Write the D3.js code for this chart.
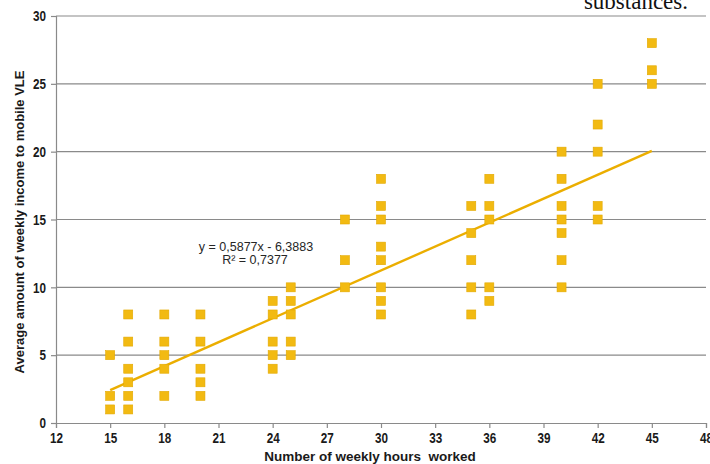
<!DOCTYPE html>
<html>
<head>
<meta charset="utf-8">
<script src="https://cdn.jsdelivr.net/npm/d3@7"></script>
<style>
  html, body { margin: 0; padding: 0; background: #ffffff; }
  svg { display: block; }
</style>
</head>
<body>
<svg id="chart" width="710" height="464"></svg>
<script>
// Weekly hours worked vs. average weekly income spent on mobile VLE
const hours = [
  15, 15, 15,
  16, 16, 16, 16, 16, 16,
  18, 18, 18, 18, 18,
  20, 20, 20, 20, 20,
  24, 24, 24, 24, 24,
  25, 25, 25, 25, 25,
  28, 28, 28,
  30, 30, 30, 30, 30, 30, 30, 30,
  35, 35, 35, 35, 35,
  36, 36, 36, 36, 36,
  40, 40, 40, 40, 40, 40, 40,
  42, 42, 42, 42, 42,
  45, 45, 45
];
const income = [
  5, 2, 1,
  8, 6, 4, 3, 2, 1,
  8, 6, 5, 4, 2,
  8, 6, 4, 3, 2,
  9, 8, 6, 5, 4,
  10, 9, 8, 6, 5,
  15, 12, 10,
  18, 16, 15, 13, 12, 10, 9, 8,
  16, 14, 12, 10, 8,
  18, 16, 15, 10, 9,
  20, 18, 16, 15, 14, 12, 10,
  25, 22, 20, 16, 15,
  28, 26, 25
];
const xTicks = [12, 15, 18, 21, 24, 27, 30, 33, 36, 39, 42, 45, 48];
const yTicks = [0, 5, 10, 15, 20, 25, 30];
const trendSlope = 0.5877;
const trendIntercept = -6.3883;
const trendLabel = ["y = 0,5877x - 6,3883", "R\u00b2 = 0,7377"];

const svg = d3.select("#chart");
const margin = { left: 56, right: 4, top: 16, bottom: 41 };
const W = 710, H = 464;

const x = d3.scaleLinear().domain([12, 48]).range([margin.left, W - margin.right]);
const y = d3.scaleLinear().domain([0, 30]).range([H - margin.bottom, margin.top]);

const sansFont = "'Liberation Sans', Arial, sans-serif";
const gridColor = "#8a8a8a";
const narrow = 0.78; // horizontal squeeze for the condensed tick numerals

// horizontal gridlines
svg.append("g")
  .selectAll("line")
  .data(yTicks.filter(d => d > 0))
  .join("line")
  .attr("x1", x(12)).attr("x2", x(48))
  .attr("y1", d => y(d)).attr("y2", d => y(d))
  .attr("stroke", gridColor)
  .attr("stroke-width", 1.2);

// y axis
const yAxis = svg.append("g")
  .attr("transform", `translate(${x(12)},0)`)
  .call(d3.axisLeft(y).tickValues(yTicks).tickSize(5).tickPadding(5));
// x axis
const xAxis = svg.append("g")
  .attr("transform", `translate(0,${y(0)})`)
  .call(d3.axisBottom(x).tickValues(xTicks).tickSize(5).tickPadding(4));

[yAxis, xAxis].forEach(g => {
  g.select(".domain").attr("stroke", gridColor).attr("stroke-width", 1.2);
  g.selectAll(".tick line").attr("stroke", gridColor).attr("stroke-width", 1.2);
  g.selectAll(".tick text")
    .attr("fill", "#1a1a1a")
    .attr("transform", `scale(${narrow},1)`)
    .style("font-family", sansFont)
    .style("font-size", "15px")
    .style("font-weight", "bold");
});
yAxis.selectAll(".tick text").attr("x", -10 / narrow);

// trendline over the observed range
const xr = d3.extent(hours);
svg.append("line")
  .attr("x1", x(xr[0])).attr("y1", y(trendSlope * xr[0] + trendIntercept))
  .attr("x2", x(xr[1])).attr("y2", y(trendSlope * xr[1] + trendIntercept))
  .attr("stroke", "#EBAE00")
  .attr("stroke-width", 2.4);

// data markers
const s = 9;
svg.append("g")
  .selectAll("rect")
  .data(hours.map((h, i) => [h, income[i]]))
  .join("rect")
  .attr("x", d => x(d[0]) - s / 2)
  .attr("y", d => y(d[1]) - s / 2)
  .attr("width", s).attr("height", s)
  .attr("fill", "#F2BA12")
  .attr("stroke", "#E3A900")
  .attr("stroke-width", 0.6);

// regression label
svg.append("text")
  .attr("x", 253).attr("y", 251)
  .attr("text-anchor", "middle")
  .style("font-family", sansFont)
  .style("font-size", "12.5px")
  .attr("fill", "#262626")
  .selectAll("tspan")
  .data(trendLabel)
  .join("tspan")
  .attr("x", (d, i) => i === 0 ? 256 : 255)
  .attr("dy", (d, i) => i === 0 ? 0 : 13)
  .text(d => d);

// axis titles
svg.append("text")
  .attr("x", 370).attr("y", 461)
  .attr("text-anchor", "middle")
  .style("font-family", sansFont)
  .style("font-size", "13.5px")
  .style("font-weight", "bold")
  .style("white-space", "pre")
  .attr("fill", "#1a1a1a")
  .text("Number of weekly hours  worked");

svg.append("text")
  .attr("transform", "translate(24,222) rotate(-90)")
  .attr("text-anchor", "middle")
  .style("font-family", sansFont)
  .style("font-size", "13px")
  .style("font-weight", "bold")
  .attr("fill", "#1a1a1a")
  .text("Average amount of weekly income to mobile VLE");

// running text above the figure
svg.append("text")
  .attr("x", 688).attr("y", 9)
  .attr("text-anchor", "end")
  .style("font-family", "'Liberation Serif', 'Times New Roman', serif")
  .style("font-size", "23px")
  .attr("fill", "#111")
  .text("substances.");
</script>
</body>
</html>
